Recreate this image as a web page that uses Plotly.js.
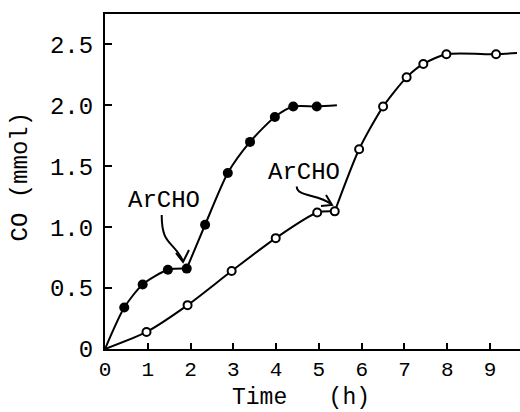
<!DOCTYPE html>
<html>
<head>
<meta charset="utf-8">
<script src="https://cdn.plot.ly/plotly-3.0.1.min.js"></script>
<style>html,body{margin:0;padding:0;background:#fff;}#chart{width:520px;height:412px;}</style>
</head>
<body>
<div id="chart"></div>
<script>
// ---- data ----
// filled circles: ArCHO added at ~1.9 h
const filledTime = [0.45, 0.88, 1.47, 1.91, 2.34, 2.87, 3.39, 3.97, 4.40, 4.95];
const filledCO   = [0.34, 0.53, 0.65, 0.66, 1.02, 1.445, 1.70, 1.905, 1.99, 1.99];
const filledStart = [0, 0];       // curve origin (time, CO)
const filledEnd   = [5.42, 2.0];  // curve end (time, CO)
const filledAddIndex = 3;          // point where ArCHO is added

// open circles: ArCHO added at ~5.4 h
const openTime = [0.97, 1.93, 2.96, 3.99, 4.96, 5.37, 5.94, 6.50, 7.05, 7.44, 7.98, 9.14];
const openCO   = [0.14, 0.36, 0.64, 0.91, 1.12, 1.13, 1.64, 1.99, 2.23, 2.34, 2.42, 2.42];
const openStart = [0, 0];
const openEnd   = [9.63, 2.43];
const openAddIndex = 5;

const xTicks = [0, 1, 2, 3, 4, 5, 6, 7, 8, 9];
const yTicks = [0, 0.5, 1.0, 1.5, 2.0, 2.5];
const yTickText = ['0', '0.5', '1.0', '1.5', '2.0', '2.5'];
const annotationText = 'ArCHO';
const xTitle = 'Time   (h)';
const yTitle = 'CO (mmol)';

// ---- layout geometry ----
const W = 520, H = 412;
const M = {l: 105, r: 0, t: 14, b: 63};
const xRange = [0, 9.7], yRange = [0, 2.75];
const pw = W - M.l - M.r, ph = H - M.t - M.b;
// pixel -> data helpers for annotation drawing
function dx(px) { return xRange[0] + (px - M.l) / pw * (xRange[1] - xRange[0]); }
function dy(py) { return yRange[0] + (H - M.b - py) / ph * (yRange[1] - yRange[0]); }
function P(px, py) { return dx(px) + ',' + dy(py); }
function paperX(px) { return (px - M.l) / pw; }
function paperY(py) { return (H - M.b - py) / ph; }

const font = 'Liberation Mono, Courier New, monospace';

function seg(xs, ys) { return {x: xs, y: ys}; }
const fA = seg([filledStart[0], ...filledTime.slice(0, filledAddIndex + 1)],
               [filledStart[1], ...filledCO.slice(0, filledAddIndex + 1)]);
const fB = seg([...filledTime.slice(filledAddIndex), filledEnd[0]],
               [...filledCO.slice(filledAddIndex), filledEnd[1]]);
const oA = seg([openStart[0], ...openTime.slice(0, openAddIndex + 1)],
               [openStart[1], ...openCO.slice(0, openAddIndex + 1)]);
const oB = seg([...openTime.slice(openAddIndex), openEnd[0]],
               [...openCO.slice(openAddIndex), openEnd[1]]);

const lineStyle = {color: '#000', width: 2, shape: 'spline', smoothing: 0.7};
function lineTrace(s) {
  return {x: s.x, y: s.y, mode: 'lines', line: lineStyle, hoverinfo: 'skip', showlegend: false};
}
const traces = [
  lineTrace(fA), lineTrace(fB), lineTrace(oA), lineTrace(oB),
  {x: filledTime, y: filledCO, mode: 'markers', showlegend: false,
   marker: {symbol: 'circle', size: 10, color: '#000', line: {color: '#000', width: 0}}},
  {x: openTime, y: openCO, mode: 'markers', showlegend: false,
   marker: {symbol: 'circle', size: 8, color: '#fff', line: {color: '#000', width: 2}}}
];

const arrowLine = {color: '#000', width: 2};
const shapes = [
  {type: 'path', xref: 'x', yref: 'y', line: arrowLine,
   path: 'M' + P(161.7, 215) + ' C' + P(161.7, 246) + ' ' + P(173, 240) + ' ' + P(183, 261)},
  {type: 'path', xref: 'x', yref: 'y', line: arrowLine,
   path: 'M' + P(176, 253) + ' L' + P(183, 262) + ' L' + P(189, 250)},
  {type: 'path', xref: 'x', yref: 'y', line: arrowLine,
   path: 'M' + P(296.7, 186.5) + ' C' + P(297, 197) + ' ' + P(318, 194) + ' ' + P(331, 204)},
  {type: 'path', xref: 'x', yref: 'y', line: arrowLine,
   path: 'M' + P(326, 195) + ' L' + P(332, 205) + ' L' + P(321, 206)}
];

const annotations = [
  {x: dx(164), y: dy(200), xref: 'x', yref: 'y', text: annotationText, showarrow: false,
   font: {family: font, size: 24, color: '#000'}},
  {x: dx(304), y: dy(172.5), xref: 'x', yref: 'y', text: annotationText, showarrow: false,
   font: {family: font, size: 24, color: '#000'}},
  {x: paperX(301), y: paperY(398), xref: 'paper', yref: 'paper', text: xTitle, showarrow: false,
   xanchor: 'center', yanchor: 'middle', font: {family: font, size: 23, color: '#000'}},
  {x: paperX(20), y: paperY(176.5), xref: 'paper', yref: 'paper', text: yTitle, showarrow: false,
   textangle: -90, xanchor: 'center', yanchor: 'middle', font: {family: font, size: 24, color: '#000'}}
];

const axisCommon = {
  showgrid: false, zeroline: false, showline: true, linecolor: '#000', linewidth: 2,
  ticks: 'inside', tickcolor: '#000', tickwidth: 2, fixedrange: true
};

const layout = {
  width: W, height: H, margin: M,
  paper_bgcolor: '#fff', plot_bgcolor: '#fff',
  font: {family: font, color: '#000'},
  showlegend: false,
  xaxis: Object.assign({}, axisCommon, {
    range: xRange, tickvals: xTicks, ticktext: xTicks.map(String), ticklen: 6,
    mirror: true,
    tickfont: {family: font, size: 21, color: '#000'}
  }),
  yaxis: Object.assign({}, axisCommon, {
    range: yRange, tickvals: yTicks, ticktext: yTickText, ticklen: 7,
    ticklabelstandoff: 5,
    tickfont: {family: font, size: 24, color: '#000'}
  }),
  shapes: shapes,
  annotations: annotations
};

Plotly.newPlot('chart', traces, layout, {displayModeBar: false, staticPlot: true});
</script>
</body>
</html>
